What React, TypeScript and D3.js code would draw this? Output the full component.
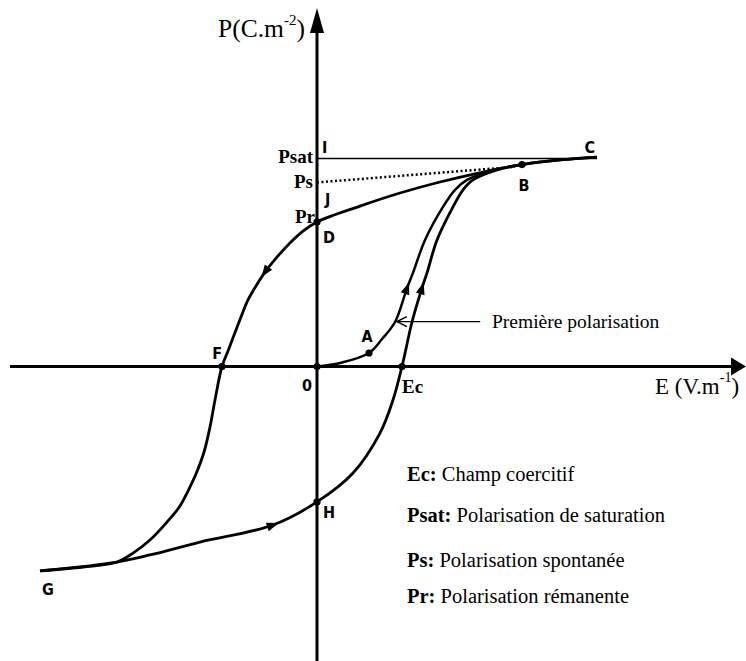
import React from 'react';
import * as d3 from 'd3';

// Hysteresis loop. E in units of Ec, P in units of Psat.
const descending: [number, number][] = [
  [3.294, 1.007], [2.859, 0.993], [2.412, 0.971], [1.953, 0.935], [1.447, 0.887],
  [0.976, 0.834], [0.506, 0.771], [0, 0.695], [-0.165, 0.651], [-0.318, 0.594],
  [-0.471, 0.526], [-0.612, 0.454], [-0.718, 0.387], [-0.812, 0.32], [-0.894, 0.238],
  [-0.976, 0.151], [-1.047, 0.075], [-1.118, 0], [-1.2, -0.161], [-1.259, -0.291],
  [-1.329, -0.411], [-1.424, -0.517], [-1.518, -0.599], [-1.612, -0.671],
  [-1.765, -0.748], [-1.965, -0.834], [-2.165, -0.897], [-2.353, -0.94],
  [-2.753, -0.964], [-3.259, -0.983],
];
const ascending: [number, number][] = [
  [-3.259, -0.983], [-2.353, -0.94], [-1.965, -0.906], [-1.376, -0.844], [-0.518, -0.762],
  [0, -0.651], [0.424, -0.512], [0.741, -0.32], [0.894, -0.161], [1.0, 0],
  [1.118, 0.214], [1.235, 0.377], [1.294, 0.45], [1.412, 0.608], [1.6, 0.767],
  [1.718, 0.849], [1.835, 0.897], [2.118, 0.945], [2.412, 0.971], [2.859, 0.993],
  [3.294, 1.007],
];
const firstPolarisation: [number, number][] = [
  [0, 0], [0.271, 0.017], [0.612, 0.065], [0.765, 0.132], [0.918, 0.214], [1.059, 0.377],
  [1.129, 0.45], [1.271, 0.608], [1.482, 0.767], [1.624, 0.849], [1.765, 0.897],
  [2.1, 0.946], [2.412, 0.971],
];

// index in each curve where a direction arrow sits
const arrowIdx = { descending: 11, ascending: [4, 11], firstPolarisation: 5 };

const Psat = 1.0;
const Ps = 0.885;
const Pr = 0.695;
const Ec = 1.0;
const psEnd: [number, number] = [2.33, 0.96];
const cEnd = 3.294;
const pointerP = 0.216;

// marked points: O, A, F, Ec, D, H, B
const dots: [number, number][] = [
  [0, 0], [0.612, 0.065], [-1.118, 0], [1.0, 0], [0, 0.695], [0, -0.651], [2.412, 0.971],
];

const legend = [
  { key: 'Ec:', text: ' Champ coercitif' },
  { key: 'Psat:', text: ' Polarisation de saturation' },
  { key: 'Ps:', text: ' Polarisation spontanée' },
  { key: 'Pr:', text: ' Polarisation rémanente' },
];

export default function App() {
  const w = 746;
  const h = 661;

  const x = d3.scaleLinear().domain([0, 1]).range([317, 402]);
  const y = d3.scaleLinear().domain([0, 1]).range([366.5, 158.5]);

  const line = d3.line<[number, number]>()
    .x(d => x(d[0]))
    .y(d => y(d[1]))
    .curve(d3.curveCatmullRom.alpha(0.5));

  const serif = { fontFamily: "'Liberation Serif', 'Times New Roman', serif" };
  const sans = { fontFamily: "'DejaVu Sans Condensed', 'DejaVu Sans', sans-serif" };

  // little filled triangle pointing along the curve at point i
  const arrowAt = (pts: [number, number][], i: number, key: string) => {
    const a = pts[i - 1], b = pts[i + 1];
    const ang = Math.atan2(y(b[1]) - y(a[1]), x(b[0]) - x(a[0])) * 180 / Math.PI;
    return (
      <path key={key} d="M6,0 L-6,-4.5 L-6,4.5 Z" fill="black"
        transform={`translate(${x(pts[i][0])},${y(pts[i][1])}) rotate(${ang})`} />
    );
  };

  const xAxisY = y(0);
  const yAxisX = x(0);
  const px0 = x(0.94), px1 = x(1.92), py = y(pointerP);

  return (
    <div style={{ position: 'absolute', left: 0, top: 0 }}>
      <svg width={w} height={h} style={{ display: 'block', background: 'white' }}>
        {/* axes */}
        <line x1={10} x2={733} y1={xAxisY} y2={xAxisY} stroke="black" strokeWidth={3} />
        <path d={`M746,${xAxisY} L731,${xAxisY - 9} L731,${xAxisY + 9} Z`} fill="black" />
        <line x1={yAxisX} x2={yAxisX} y1={30} y2={h} stroke="black" strokeWidth={3} />
        <path d={`M${yAxisX},8 L${yAxisX - 7},33 L${yAxisX + 7},33 Z`} fill="black" />

        {/* Psat and Ps guide lines */}
        <line x1={x(0)} x2={x(cEnd)} y1={y(Psat)} y2={y(Psat)} stroke="black" strokeWidth={1.3} />
        <line x1={x(0)} x2={x(psEnd[0])} y1={y(Ps)} y2={y(psEnd[1])}
          stroke="black" strokeWidth={2.5} strokeDasharray="2,2.5" />

        {/* curves */}
        <path d={line(descending) || ''} fill="none" stroke="black" strokeWidth={2.8} />
        <path d={line(ascending) || ''} fill="none" stroke="black" strokeWidth={2.8} />
        <path d={line(firstPolarisation) || ''} fill="none" stroke="black" strokeWidth={2.5} />

        {arrowAt(descending, arrowIdx.descending, 'a1')}
        {arrowIdx.ascending.map((i, k) => arrowAt(ascending, i, 'a2' + k))}
        {arrowAt(firstPolarisation, arrowIdx.firstPolarisation, 'a3')}

        {dots.map((d, i) => (
          <circle key={i} cx={x(d[0])} cy={y(d[1])} r={3.6} fill="black" />
        ))}

        {/* pointer to the first polarisation curve */}
        <line x1={px0} x2={px1} y1={py} y2={py} stroke="black" strokeWidth={1.3} />
        <path d={`M${px0 + 10},${py - 5} L${px0},${py} L${px0 + 10},${py + 5}`}
          fill="none" stroke="black" strokeWidth={1.5} />
        <text x={492} y={py + 6} style={serif} fontSize={19.5}>Première polarisation</text>

        {/* axis titles */}
        <text x={218} y={37} style={serif} fontSize={25.5}>
          P(C.m<tspan dy={-12} fontSize={15}>-2</tspan><tspan dy={12}>)</tspan>
        </text>
        <text x={655} y={394} style={serif} fontSize={23}>
          E (V.m<tspan dy={-12} fontSize={14}>-1</tspan><tspan dy={12}>)</tspan>
        </text>

        {/* y-axis values */}
        <g style={serif} fontWeight="bold" fontSize={19} textAnchor="end">
          <text x={yAxisX - 4} y={y(Psat) + 4}>Psat</text>
          <text x={yAxisX - 4} y={y(Ps) + 6}>Ps</text>
          <text x={yAxisX - 2} y={y(Pr) + 1}>Pr</text>
        </g>
        <text x={x(Ec)} y={xAxisY + 26} style={serif} fontWeight="bold" fontSize={19}>Ec</text>

        {/* point letters */}
        <g style={sans} fontWeight="bold" fontSize={16}>
          <text x={yAxisX + 5} y={y(Psat) - 6}>I</text>
          <text x={yAxisX + 8} y={y(Ps) + 23}>J</text>
          <text x={x(cEnd) - 2} y={y(Psat) - 6} textAnchor="end">C</text>
          <text x={x(2.412) + 2} y={y(0.971) + 26} textAnchor="middle">B</text>
          <text x={x(0.612) - 2} y={y(0.065) - 11} textAnchor="middle">A</text>
          <text x={x(-1.118)} y={xAxisY - 8} textAnchor="end">F</text>
          <text x={yAxisX - 5} y={xAxisY + 24} textAnchor="end">0</text>
          <text x={yAxisX + 6} y={y(Pr) + 21}>D</text>
          <text x={yAxisX + 6} y={y(-0.651) + 16}>H</text>
          <text x={x(-3.259) + 2} y={y(-0.983) + 24}>G</text>
        </g>

        {/* legend */}
        <g style={serif} fontSize={20.5}>
          {legend.map((l, i) => (
            <text key={l.key} x={407} y={481 + [0, 41, 86, 122][i]}>
              <tspan fontWeight="bold">{l.key}</tspan>{l.text}
            </text>
          ))}
        </g>
      </svg>
    </div>
  );
}
